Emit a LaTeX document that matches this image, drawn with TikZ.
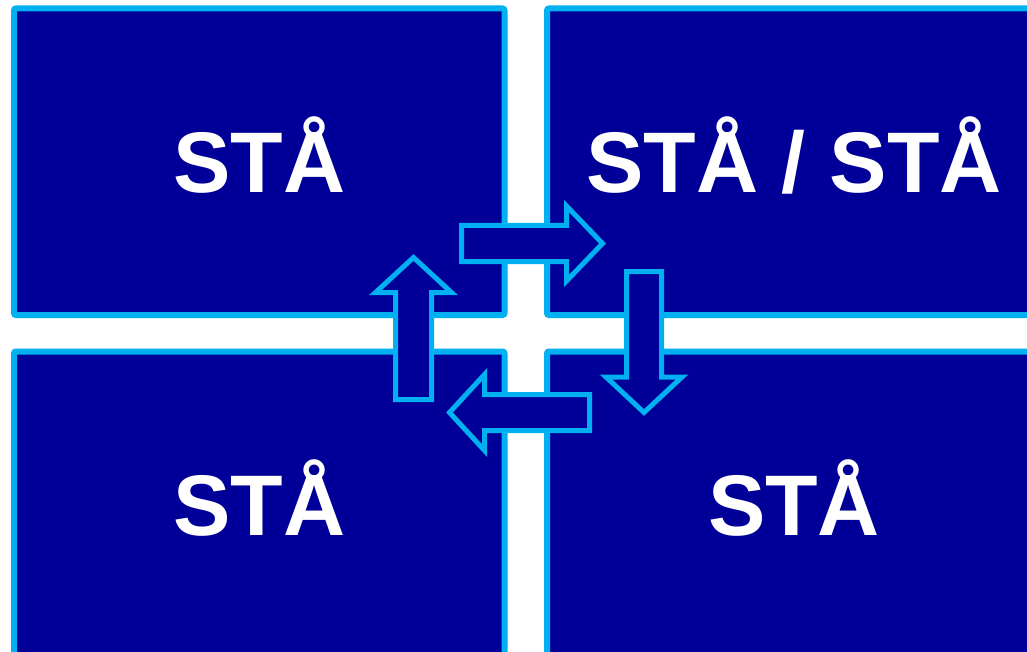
\documentclass[tikz,border=0pt]{standalone}
\usepackage{fontspec}
\setmainfont{Liberation Sans}
\definecolor{panelblue}{HTML}{000099}
\definecolor{edgeblue}{HTML}{00B0F0}

\begin{document}
\begin{tikzpicture}[
    x=1pt, y=-1pt,
    panel/.style={rectangle, draw=edgeblue, fill=panelblue, line width=6pt, rounded corners=2pt, text=white, font=\fontsize{86}{90}\selectfont\bfseries, inner sep=0pt, text height=62pt, text depth=0pt},
    blockarrow/.style={draw=edgeblue, fill=panelblue, line width=5pt, line join=miter}
]
    \clip (0,0) rectangle (1027,652);
    \useasboundingbox (0,0) rectangle (1027,652);

    % Panels
    \node[panel, minimum width=490.5pt, minimum height=306.5pt] (topleft) at (259.25,161.75) {STÅ};
    \node[panel, minimum width=494pt, minimum height=306.5pt] (topright) at (794,161.75) {STÅ / STÅ};
    \node[panel, minimum width=490.5pt, minimum height=306.5pt] (bottomleft) at (259.25,504.75) {STÅ};
    \node[panel, minimum width=494pt, minimum height=306.5pt] (bottomright) at (794,504.75) {STÅ};

    % Block arrows going round clockwise
    \draw[blockarrow] (461.5,225.5) -- (566.5,225.5) -- (566.5,206) -- (602.5,243.5) -- (566.5,281) -- (566.5,261.5) -- (461.5,261.5) -- cycle;
    \draw[blockarrow] (626.5,271.5) -- (626.5,377) -- (606,377) -- (644,412.5) -- (682,377) -- (661.5,377) -- (661.5,271.5) -- cycle;
    \draw[blockarrow] (589.5,394.5) -- (484.5,394.5) -- (484.5,374.5) -- (449.5,412.5) -- (484.5,450.5) -- (484.5,430.5) -- (589.5,430.5) -- cycle;
    \draw[blockarrow] (395.5,399.5) -- (395.5,292.5) -- (375.5,292.5) -- (413.5,257.5) -- (451.5,292.5) -- (431.5,292.5) -- (431.5,399.5) -- cycle;
\end{tikzpicture}
\end{document}
